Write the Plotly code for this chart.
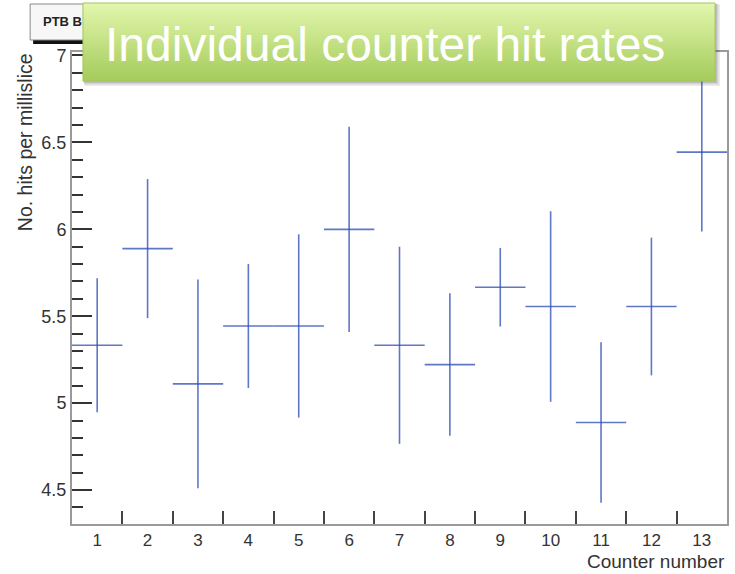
import plotly.graph_objects as go

# ---- data ----
counters = [1, 2, 3, 4, 5, 6, 7, 8, 9, 10, 11, 12, 13]
hit_rates = [5.333, 5.889, 5.111, 5.444, 5.444, 6.000, 5.333, 5.222, 5.667, 5.556, 4.889, 5.556, 6.444]
hit_errors = [0.385, 0.400, 0.600, 0.357, 0.527, 0.590, 0.567, 0.410, 0.226, 0.548, 0.462, 0.396, 0.456]
bin_half_width = 0.5
x_tick_labels = [str(c) for c in counters]
bin_edges = [c + 0.5 for c in counters[:-1]]
y_major_ticks = [4.5, 5.0, 5.5, 6.0, 6.5, 7.0]
y_tick_labels = ["4.5", "5", "5.5", "6", "6.5", "7"]
y_minor_ticks = [round(4.4 + 0.1 * i, 1) for i in range(27)]
y_range = [4.305, 7.02]

W, H = 735, 574
ML, MR, MT, MB = 72, 6, 52, 50
PW, PH = W - ML - MR, H - MT - MB


def px(x):
    return (x - ML) / PW


def py(y):
    return 1 - (y - MT) / PH


fig = go.Figure()
fig.add_trace(go.Scatter(
    x=counters, y=hit_rates, mode="markers",
    marker=dict(size=1, color="rgba(50,80,180,0.85)"),
    error_y=dict(type="data", array=hit_errors, symmetric=True, width=0,
                 thickness=1.6, color="rgba(55,85,185,0.8)"),
    error_x=dict(type="constant", value=bin_half_width, width=0,
                 thickness=1.6, color="rgba(55,85,185,0.8)"),
    hoverinfo="skip", showlegend=False,
))

FONT = "Liberation Sans, Arial, sans-serif"

fig.update_xaxes(
    range=[0.5, 13.5], tickvals=counters, ticktext=x_tick_labels,
    ticks="", showgrid=False, zeroline=False,
    showline=True, linecolor="#9a9a9a", linewidth=2, mirror=True,
    tickfont=dict(family=FONT, size=17, color="#333"),
    minor=dict(tickvals=bin_edges, ticks="inside", ticklen=13,
               tickcolor="#444", tickwidth=1.5, showgrid=False),
)
fig.update_yaxes(
    range=y_range, tickvals=y_major_ticks, ticktext=y_tick_labels,
    ticks="inside", ticklen=20, tickcolor="#333", tickwidth=2,
    showgrid=False, zeroline=False,
    showline=True, linecolor="#9a9a9a", linewidth=2, mirror=True,
    tickfont=dict(family=FONT, size=18, color="#333"),
    minor=dict(tickvals=y_minor_ticks, ticks="inside", ticklen=11,
               tickcolor="#333", tickwidth=2, showgrid=False),
)

shapes = []
# ROOT title box "PTB B..." with shadow
shapes.append(dict(type="rect", xref="paper", yref="paper", layer="above",
                   x0=px(33), x1=px(120), y0=py(44), y1=py(7),
                   fillcolor="#111", line=dict(width=0)))
shapes.append(dict(type="rect", xref="paper", yref="paper", layer="above",
                   x0=px(30), x1=px(117), y0=py(40), y1=py(4),
                   fillcolor="#f7f7f7", line=dict(color="#888", width=1)))

# banner shadow
for i, a in enumerate([0.10, 0.12, 0.16]):
    off = 5 - i * 1.5
    shapes.append(dict(type="rect", xref="paper", yref="paper", layer="above",
                       x0=px(83 + off * 0.3), x1=px(717 + off), y0=py(81 + off), y1=py(3 + off * 0.3),
                       fillcolor=f"rgba(60,60,60,{a})", line=dict(width=0)))

# banner gradient
top_c = (226, 246, 172)
bot_c = (165, 204, 92)
b_top, b_bot = 3, 81
n = 26
for i in range(n):
    t = i / (n - 1)
    c = tuple(int(round(top_c[k] + (bot_c[k] - top_c[k]) * t)) for k in range(3))
    y0 = b_top + (b_bot - b_top) * i / n
    y1 = b_top + (b_bot - b_top) * (i + 1) / n
    shapes.append(dict(type="rect", xref="paper", yref="paper", layer="above",
                       x0=px(83), x1=px(717), y0=py(y1 + 0.3), y1=py(y0),
                       fillcolor=f"rgb{c}", line=dict(width=0)))
shapes.append(dict(type="rect", xref="paper", yref="paper", layer="above",
                   x0=px(83), x1=px(717), y0=py(b_bot), y1=py(b_top),
                   fillcolor="rgba(0,0,0,0)", line=dict(color="#a3c65e", width=1)))

annotations = [
    dict(text="<b>PTB B</b>", xref="paper", yref="paper", x=px(41), y=py(22),
         xanchor="left", yanchor="middle", showarrow=False,
         font=dict(family=FONT, size=13, color="#222")),
    dict(text="Individual counter hit rates", xref="paper", yref="paper",
         x=px(103), y=py(45), xanchor="left", yanchor="middle", showarrow=False,
         font=dict(family=FONT, size=48, color="white")),
    dict(text="Counter number", xref="paper", yref="paper", x=px(729), y=py(561),
         xanchor="right", yanchor="middle", showarrow=False,
         font=dict(family=FONT, size=19, color="#333")),
    dict(text="No. hits per millislice", xref="paper", yref="paper", x=px(25), y=py(51),
         xanchor="center", yanchor="top", textangle=-90, showarrow=False,
         font=dict(family=FONT, size=19.5, color="#333")),
]

fig.update_layout(
    width=W, height=H, margin=dict(l=ML, r=MR, t=MT, b=MB),
    plot_bgcolor="white", paper_bgcolor="white",
    shapes=shapes, annotations=annotations, hovermode=False,
)

fig.write_html("out.html")
